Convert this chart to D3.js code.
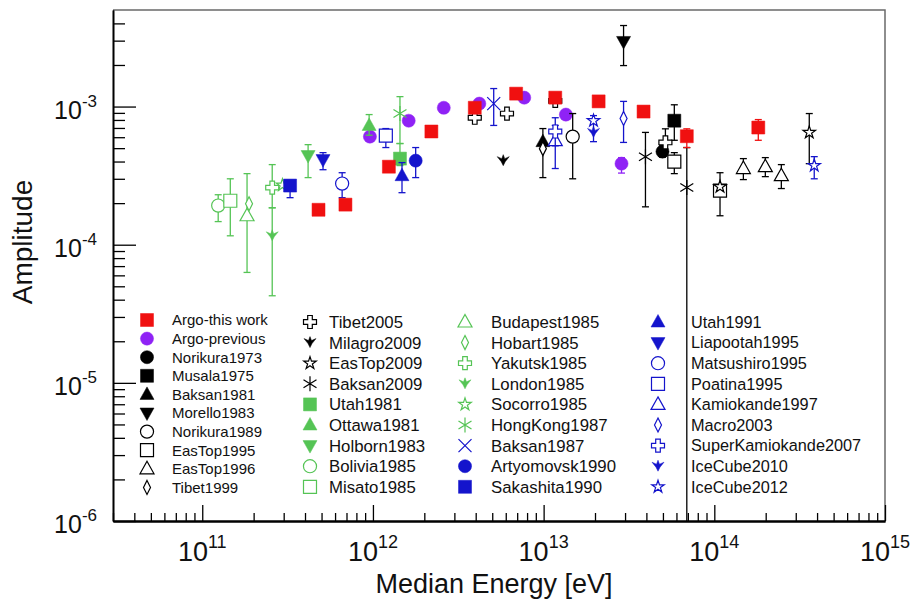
<!DOCTYPE html>
<html>
<head>
<meta charset="utf-8">
<script src="https://cdn.jsdelivr.net/npm/d3@7"></script>
<style>
body{margin:0;background:#fff;}
svg text{font-family:"Liberation Sans",Arial,sans-serif;fill:#111;}
</style>
</head>
<body>
<svg id="graph"></svg>
<script>
// e = median energy [eV], a = amplitude, lo/hi = error bar ends
var argoThisWork=[
    {e:4.8e11,a:1.79e-4},{e:6.9e11,a:1.95e-4},{e:1.24e12,a:3.67e-4},
    {e:2.2e12,a:6.6e-4},{e:3.95e12,a:9.8e-4},{e:6.9e12,a:1.24e-3},
    {e:1.17e13,a:1.16e-3},{e:2.1e13,a:1.09e-3},{e:3.85e13,a:9.2e-4},
    {e:6.9e13,a:6.1e-4,lo:5.05e-4,hi:6.9e-4},{e:1.81e14,a:7.05e-4,lo:5.7e-4,hi:8.05e-4}]
var argoPrevious=[
    {e:9.6e11,a:6.06e-4},{e:1.62e12,a:7.9e-4},{e:2.6e12,a:9.8e-4},
    {e:4.2e12,a:1.05e-3},{e:7.7e12,a:1.16e-3},{e:1.35e13,a:8.75e-4},
    {e:2.86e13,a:3.86e-4,lo:3.3e-4,hi:4.27e-4}]
var norikura1973=[{e:4.97e13,a:4.72e-4,lo:4.3e-4,hi:5.2e-4}]
var musala1975=[{e:5.83e13,a:7.9e-4,lo:5.7e-4,hi:1.03e-3}]
var baksan1981=[{e:9.9e12,a:5.57e-4,lo:3.06e-4,hi:6.93e-4}]
var morello1983=[{e:2.94e13,a:2.96e-3,lo:1.98e-3,hi:3.86e-3}]
var norikura1989=[{e:1.48e13,a:6.06e-4,lo:3.0e-4,hi:8.9e-4}]
var easTop1995=[{e:5.83e13,a:4.0e-4,lo:3.27e-4,hi:4.64e-4},{e:1.08e14,a:2.46e-4,lo:1.62e-4,hi:3.32e-4}]
var easTop1996=[{e:1.48e14,a:3.56e-4,lo:2.96e-4,hi:4.2e-4},{e:1.99e14,a:3.67e-4,lo:3.11e-4,hi:4.27e-4},
    {e:2.47e14,a:3.16e-4,lo:2.55e-4,hi:3.8e-4}]
var tibet1999=[{e:9.9e12,a:4.96e-4}]
var tibet2005=[{e:3.95e12,a:8.3e-4},{e:6.1e12,a:8.9e-4},{e:1.17e13,a:1.1e-3},
    {e:5.17e13,a:5.5e-4,lo:4.7e-4,hi:6.9e-4}]
var milagro2009=[{e:5.8e12,a:4.06e-4}]
var easTop2009=[{e:1.08e14,a:2.63e-4},{e:3.6e14,a:6.5e-4,lo:3.86e-4,hi:8.9e-4}]
var baksan2009=[{e:3.95e13,a:4.34e-4,lo:1.88e-4,hi:6.5e-4},{e:6.9e13,a:2.59e-4,lo:5e-7,hi:5.05e-4}]
var utah1981=[{e:1.44e12,a:4.2e-4,lo:3.74e-4,hi:5.4e-4}]
var ottawa1981=[{e:9.5e11,a:7.3e-4,lo:6.2e-4,hi:8.75e-4}]
var holborn1983=[{e:4.17e11,a:4.42e-4,lo:3.06e-4,hi:5.3e-4}]
var bolivia1985=[{e:1.24e11,a:1.92e-4,lo:1.47e-4,hi:2.3e-4}]
var misato1985=[{e:1.46e11,a:2.08e-4,lo:1.16e-4,hi:3.0e-4}]
var budapest1985=[{e:1.83e11,a:1.62e-4,lo:6.3e-5,hi:3.27e-4}]
var hobart1985=[{e:1.88e11,a:1.98e-4}]
var yakutsk1985=[{e:2.57e11,a:2.59e-4,lo:1.85e-4,hi:3.8e-4}]
var london1985=[{e:2.57e11,a:1.16e-4,lo:4.27e-5,hi:1.85e-4}]
var socorro1985=[{e:2.95e11,a:2.7e-4}]
var hongKong1987=[{e:1.44e12,a:8.9e-4,lo:5.4e-4,hi:1.18e-3}]
var baksan1987=[{e:5.1e12,a:1.05e-3,lo:7.3e-4,hi:1.35e-3}]
var artyomovsk1990=[{e:1.78e12,a:4.06e-4,lo:3.06e-4,hi:5.05e-4}]
var sakashita1990=[{e:3.27e11,a:2.68e-4,lo:2.19e-4,hi:2.91e-4}]
var utah1991=[{e:1.48e12,a:3.16e-4,lo:2.38e-4,hi:3.93e-4}]
var liapootah1995=[{e:5.1e11,a:4.13e-4,lo:3.49e-4,hi:4.64e-4}]
var matsushiro1995=[{e:6.6e11,a:2.77e-4,lo:2.19e-4,hi:3.32e-4}]
var poatina1995=[{e:1.19e12,a:6.17e-4,lo:5.05e-4,hi:6.93e-4}]
var kamiokande1997=[{e:1.17e13,a:5.67e-4,lo:3.56e-4,hi:8.3e-4}]
var macro2003=[{e:2.94e13,a:8.2e-4,lo:5.5e-4,hi:1.09e-3}]
var superKamiokande2007=[{e:1.17e13,a:6.6e-4,lo:5.2e-4,hi:7.3e-4}]
var iceCube2010=[{e:1.96e13,a:6.5e-4,lo:5.57e-4,hi:8.6e-4}]
var iceCube2012=[{e:1.96e13,a:7.9e-4},{e:3.85e14,a:3.74e-4,lo:3.0e-4,hi:4.34e-4}]

var xDomain=[3e10,1e15]
var yDomain=[1e-6,5e-3]
var xTickExp=[11,12,13,14,15]
var yTickExp=[-6,-5,-4,-3]

var RED="#f01010",PURPLE="#8f22f5",BLACK="#000",GREEN="#55c455",BLUE="#1414cc"

// name, data, colour, marker, legend column
var series=[
    ["Argo-this work",argoThisWork,RED,"square",0],
    ["Argo-previous",argoPrevious,PURPLE,"circle",0],
    ["Norikura1973",norikura1973,BLACK,"circle",0],
    ["Musala1975",musala1975,BLACK,"square",0],
    ["Baksan1981",baksan1981,BLACK,"triUp",0],
    ["Morello1983",morello1983,BLACK,"triDown",0],
    ["Norikura1989",norikura1989,BLACK,"oCircle",0],
    ["EasTop1995",easTop1995,BLACK,"oSquare",0],
    ["EasTop1996",easTop1996,BLACK,"oTri",0],
    ["Tibet1999",tibet1999,BLACK,"oDiamond",0],
    ["Tibet2005",tibet2005,BLACK,"oCross",1],
    ["Milagro2009",milagro2009,BLACK,"flake",1],
    ["EasTop2009",easTop2009,BLACK,"oStar",1],
    ["Baksan2009",baksan2009,BLACK,"asterisk",1],
    ["Utah1981",utah1981,GREEN,"square",1],
    ["Ottawa1981",ottawa1981,GREEN,"triUp",1],
    ["Holborn1983",holborn1983,GREEN,"triDown",1],
    ["Bolivia1985",bolivia1985,GREEN,"oCircle",1],
    ["Misato1985",misato1985,GREEN,"oSquare",1],
    ["Budapest1985",budapest1985,GREEN,"oTri",2],
    ["Hobart1985",hobart1985,GREEN,"oDiamond",2],
    ["Yakutsk1985",yakutsk1985,GREEN,"oCross",2],
    ["London1985",london1985,GREEN,"flake",2],
    ["Socorro1985",socorro1985,GREEN,"oStar",2],
    ["HongKong1987",hongKong1987,GREEN,"asterisk",2],
    ["Baksan1987",baksan1987,BLUE,"x",2],
    ["Artyomovsk1990",artyomovsk1990,BLUE,"circle",2],
    ["Sakashita1990",sakashita1990,BLUE,"square",2],
    ["Utah1991",utah1991,BLUE,"triUp",3],
    ["Liapootah1995",liapootah1995,BLUE,"triDown",3],
    ["Matsushiro1995",matsushiro1995,BLUE,"oCircle",3],
    ["Poatina1995",poatina1995,BLUE,"oSquare",3],
    ["Kamiokande1997",kamiokande1997,BLUE,"oTri",3],
    ["Macro2003",macro2003,BLUE,"oDiamond",3],
    ["SuperKamiokande2007",superKamiokande2007,BLUE,"oCross",3],
    ["IceCube2010",iceCube2010,BLUE,"flake",3],
    ["IceCube2012",iceCube2012,BLUE,"oStar",3]
]

var shapePath=function(shape)
    {
        switch(shape)
        {
            case "square": case "oSquare": return "M-6.5,-6.5H6.5V6.5H-6.5Z"
            case "circle": case "oCircle": return d3.symbol(d3.symbolCircle,135)()
            case "triUp": case "oTri": return "M0,-7.5L7,5H-7Z"
            case "triDown": return "M0,7.5L7,-5H-7Z"
            case "oDiamond": return "M0,-7L3.5,0L0,7L-3.5,0Z"
            case "oCross": return "M-2.3,-6.5H2.3V-2.3H6.5V2.3H2.3V6.5H-2.3V2.3H-6.5V-2.3H-2.3Z"
            case "oStar": return d3.symbol(d3.symbolStar,48)()
            case "flake": return "M0,5L-2,1L-6,-4L-1.5,-2L0,-6L1.5,-2L6,-4L2,1Z"
            case "asterisk": return "M0,-7.5V7.5M-6.5,-4L6.5,4M-6.5,4L6.5,-4"
            case "x": return "M-6.5,-6.5L6.5,6.5M-6.5,6.5L6.5,-6.5"
        }
    }

var styleMarker=function(sel,shape,color)
    {
        var open=shape.charAt(0)=="o"
        var lines=(shape=="asterisk"||shape=="x")
        sel.attr("d",shapePath(shape))
            .attr("fill",lines?"none":(open?"#fff":color))
            .attr("stroke",color)
            .attr("stroke-width",open||lines?1.2:0.5)
            .attr("stroke-linejoin","miter")
    }

var initGraph=function()
    {
        var screen={width:913,height:599}
        var plot={left:113,right:885,top:10,bottom:521}

        var svg=d3.select("#graph")
            .attr("width",screen.width)
            .attr("height",screen.height)

        var xScale=d3.scaleLog().domain(xDomain).range([plot.left,plot.right])
        var yScale=d3.scaleLog().domain(yDomain).range([plot.bottom,plot.top])

        svg.append("defs").append("clipPath").attr("id","clip")
            .append("rect")
            .attr("x",plot.left).attr("y",plot.top)
            .attr("width",plot.right-plot.left)
            .attr("height",plot.bottom-plot.top)

        // frame top & right
        svg.append("path")
            .attr("d","M"+plot.left+","+plot.top+"H"+plot.right+"V"+plot.bottom)
            .attr("fill","none")
            .attr("stroke","#6a6a6a")
            .attr("stroke-width",1.5)

        drawAxes(svg,plot,xScale,yScale)
        drawPoints(svg,xScale,yScale)
        drawLegend(svg)
        drawLabels(svg,plot,xScale,yScale)
    }

var drawAxes=function(svg,plot,xScale,yScale)
    {
        var xMajor=xTickExp.map(function(p){return Math.pow(10,p)})
        var xMinor=xScale.ticks().filter(function(t)
            {
                var l=Math.log10(t);return Math.abs(l-Math.round(l))>1e-6
            })
        var yMajor=yTickExp.map(function(p){return Math.pow(10,p)})
        var yMinor=yScale.ticks().filter(function(t)
            {
                var l=Math.log10(t);return Math.abs(l-Math.round(l))>1e-6 && t<yDomain[1]*0.999
            })

        var gx=svg.append("g").attr("transform","translate(0,"+plot.bottom+")")
        gx.append("g").call(d3.axisBottom(xScale).tickValues(xMinor).tickSize(-8).tickSizeOuter(0).tickFormat(""))
        gx.append("g").call(d3.axisBottom(xScale).tickValues(xMajor).tickSize(-16).tickSizeOuter(0).tickFormat(""))

        var gy=svg.append("g").attr("transform","translate("+plot.left+",0)")
        gy.append("g").call(d3.axisLeft(yScale).tickValues(yMinor).tickSize(-12).tickSizeOuter(0).tickFormat(""))
        gy.append("g").call(d3.axisLeft(yScale).tickValues(yMajor).tickSize(-23).tickSizeOuter(0).tickFormat(""))

        svg.selectAll(".tick line").attr("stroke","#000").attr("stroke-width",1.3)
        gx.selectAll(".domain").attr("stroke","#000").attr("stroke-width",2)
        gy.selectAll(".domain").attr("stroke","#000").attr("stroke-width",1.6)
    }

var drawPoints=function(svg,xScale,yScale)
    {
        var target=svg.append("g").attr("clip-path","url(#clip)")
        var order=series.slice(1).concat([series[0]])
        order.forEach(function(s)
            {
                var g=target.append("g")
                var color=s[2]
                var withErr=s[1].filter(function(d){return d.lo!=null})
                g.selectAll("line.bar").data(withErr).enter().append("line")
                    .attr("x1",function(d){return xScale(d.e)})
                    .attr("x2",function(d){return xScale(d.e)})
                    .attr("y1",function(d){return yScale(d.hi)})
                    .attr("y2",function(d){return yScale(Math.max(d.lo,1e-7))})
                    .attr("stroke",color).attr("stroke-width",1.3)
                ;["hi","lo"].forEach(function(k)
                    {
                        g.selectAll("line.cap"+k).data(withErr.filter(function(d){return d[k]>yDomain[0]}))
                            .enter().append("line")
                            .attr("x1",function(d){return xScale(d.e)-3.5})
                            .attr("x2",function(d){return xScale(d.e)+3.5})
                            .attr("y1",function(d){return yScale(d[k])})
                            .attr("y2",function(d){return yScale(d[k])})
                            .attr("stroke",color).attr("stroke-width",1.3)
                    })
                g.selectAll("path").data(s[1]).enter().append("path")
                    .attr("transform",function(d){return "translate("+xScale(d.e)+","+yScale(d.a)+")"})
                    .call(styleMarker,s[3],color)
            })
    }

var drawLegend=function(svg)
    {
        var cols=[
            {mx:147,tx:172,y0:320,dy:18.6,fs:15},
            {mx:310,tx:329,y0:322,dy:20.6,fs:16.8},
            {mx:465,tx:491,y0:322,dy:20.6,fs:16.8},
            {mx:658,tx:691,y0:322,dy:20.6,fs:16.3}
        ]
        var counts=[0,0,0,0]
        var legend=svg.append("g").classed("legend",true)
        series.forEach(function(s)
            {
                var c=cols[s[4]]
                var y=c.y0+counts[s[4]]*c.dy
                counts[s[4]]++
                legend.append("path")
                    .attr("transform","translate("+c.mx+","+y+")")
                    .call(styleMarker,s[3],s[2])
                legend.append("text")
                    .attr("x",c.tx)
                    .attr("y",y)
                    .attr("dy","0.36em")
                    .style("font-size",c.fs+"px")
                    .text(s[0])
            })
    }

var drawLabels=function(svg,plot,xScale,yScale)
    {
        var labels=svg.append("g").classed("labels",true)
        xTickExp.forEach(function(p)
            {
                var t=labels.append("text")
                    .attr("x",xScale(Math.pow(10,p)))
                    .attr("y",561)
                    .attr("text-anchor","middle")
                t.append("tspan").style("font-size","27px").text("10")
                t.append("tspan").style("font-size","18px").attr("dy",-13).text(p)
            })
        yTickExp.forEach(function(p)
            {
                var t=labels.append("text")
                    .attr("x",97)
                    .attr("y",yScale(Math.pow(10,p))+12)
                    .attr("text-anchor","end")
                t.append("tspan").style("font-size","25px").text("10")
                t.append("tspan").style("font-size","17px").attr("dy",-12).text(p)
            })
        labels.append("text")
            .text("Median Energy [eV]")
            .attr("text-anchor","middle")
            .attr("x",494)
            .attr("y",593)
            .style("font-size","27px")
        labels.append("text")
            .text("Amplitude")
            .attr("text-anchor","middle")
            .attr("transform","translate(32,242) rotate(-90)")
            .style("font-size","28px")
    }

initGraph()
</script>
</body>
</html>
